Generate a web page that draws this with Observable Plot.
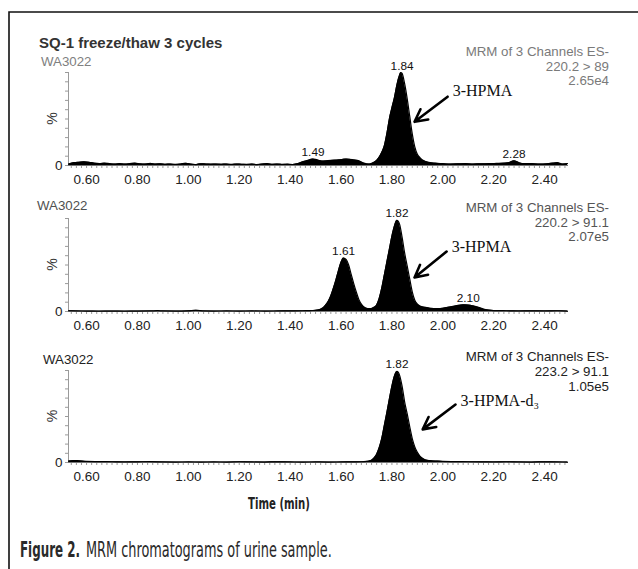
<!DOCTYPE html>
<html><head><meta charset="utf-8">
<script src="https://cdn.jsdelivr.net/npm/d3@7"></script>
<script src="https://cdn.jsdelivr.net/npm/@observablehq/plot@0.6"></script>
<style>
body{margin:0;background:#fff;}
#wrap{position:relative;width:638px;height:569px;overflow:hidden;background:#fff;}
#wrap svg{position:absolute;left:0;}
</style></head><body><div id="wrap"></div>
<script>
// ---------- data ----------
const sampleName = "WA3022";
const chartTitle = "SQ-1 freeze/thaw 3 cycles";
const xTickValues = [0.6, 0.8, 1.0, 1.2, 1.4, 1.6, 1.8, 2.0, 2.2, 2.4];
const yTickValues = [0, 10, 20, 30, 40, 50, 60, 70, 80, 90, 100];

// Panel 1: 220.2 > 89
const time1 = [0.53,0.55,0.57,0.59,0.61,0.63,0.65,0.67,0.69,0.71,0.73,0.75,0.77,0.79,0.81,0.83,0.85,0.87,0.89,0.91,0.93,0.95,0.97,0.99,1.01,1.03,1.05,1.07,1.09,1.11,1.13,1.15,1.17,1.19,1.21,1.23,1.25,1.27,1.29,1.31,1.33,1.35,1.37,1.39,1.41,1.43,1.45,1.47,1.48,1.49,1.50,1.52,1.53,1.56,1.59,1.62,1.65,1.67,1.69,1.71,1.73,1.74,1.75,1.76,1.77,1.78,1.79,1.80,1.81,1.82,1.83,1.835,1.84,1.85,1.86,1.87,1.88,1.89,1.90,1.91,1.92,1.93,1.95,1.97,2.00,2.03,2.06,2.09,2.12,2.15,2.18,2.21,2.24,2.26,2.28,2.30,2.32,2.35,2.38,2.41,2.43,2.45,2.47,2.49];
const intensity1 = [1.5,3,3.5,4,3.5,2.5,2,2.5,2,1.5,2,1.5,2,2.5,1.8,1.5,2.2,1.5,1.8,1.3,1.5,1.2,1.6,2.3,1.5,1,1.8,1.6,1.4,1.6,1.3,1.5,1.2,1.6,1.3,1.2,1.5,1,1.6,2,1.3,1.6,1.2,1.4,1.1,2,4,5.5,6.5,7,6.5,5,4.8,5.5,6,7,6,5,2.5,1.5,3.5,5.5,9,14,21,34,50,62,73,87,97,100,99,88,72,53,34,20,12,8.5,6,4.5,3,2.5,2,1.5,1.8,2,1.6,1.8,2,2.2,2.5,3,5,3,2,2,1.5,1.8,2.5,3,1.5,2];
const peakTimes1 = [1.49, 1.84, 2.28];
const peakLevels1 = [7, 100, 5];
const header1 = ["MRM of 3 Channels ES-", "220.2 > 89", "2.65e4"];
const compound1 = "3-HPMA";
const arrow1 = [2.019, 74, 1.889, 47];   // tail x,y -> head x,y (data units)
const label1 = [2.039, 80];

// Panel 2: 220.2 > 91.1
const time2 = [0.53,0.56,0.60,0.65,0.70,0.75,0.80,0.85,0.88,0.90,0.95,1.00,1.03,1.06,1.10,1.15,1.20,1.25,1.30,1.35,1.40,1.45,1.48,1.50,1.52,1.53,1.54,1.55,1.56,1.57,1.58,1.59,1.60,1.61,1.62,1.63,1.64,1.65,1.66,1.67,1.68,1.69,1.70,1.71,1.72,1.73,1.74,1.75,1.76,1.77,1.78,1.79,1.80,1.81,1.82,1.83,1.84,1.85,1.86,1.87,1.88,1.89,1.90,1.91,1.93,1.95,1.98,2.00,2.02,2.04,2.06,2.08,2.10,2.12,2.14,2.16,2.18,2.20,2.25,2.30,2.35,2.40,2.45,2.49];
const intensity2 = [0.8,0.6,0.5,0.4,0.5,0.4,0.5,0.6,0.9,0.6,0.5,0.7,1.3,0.6,0.5,0.6,0.5,0.6,0.5,0.6,0.7,0.8,1,1.3,2.5,4,7,11,17,25,34,44,53,57.5,56,50,40,30,21,13,8,5,3.5,3,3.2,4.5,7,14,25,39,53,67,81,92,98,94,80,63,49,35,21,12,8,6,4.5,3.5,3.2,3.5,4.5,5.5,6.5,7.2,7,6,4.5,2.5,1.5,1,0.8,0.6,0.7,0.6,0.8,0.5];
const peakTimes2 = [1.61, 1.82, 2.10];
const peakLevels2 = [57.5, 98, 7.2];
const header2 = ["MRM of 3 Channels ES-", "220.2 > 91.1", "2.07e5"];
const compound2 = "3-HPMA";
const arrow2 = [2.015, 64.5, 1.889, 36.6];
const label2 = [2.035, 69];

// Panel 3: 223.2 > 91.1
const time3 = [0.53,0.55,0.57,0.60,0.65,0.70,0.75,0.80,0.85,0.90,0.95,1.00,1.05,1.10,1.15,1.20,1.25,1.30,1.35,1.40,1.45,1.50,1.55,1.60,1.65,1.68,1.70,1.71,1.72,1.73,1.74,1.75,1.76,1.77,1.78,1.79,1.80,1.81,1.82,1.83,1.84,1.85,1.86,1.87,1.88,1.89,1.90,1.91,1.92,1.93,1.95,1.98,2.00,2.05,2.10,2.15,2.20,2.25,2.30,2.35,2.40,2.45,2.49];
const intensity3 = [1.5,2.2,1.8,1.2,1,0.8,0.6,0.7,0.9,0.6,0.5,0.6,0.5,0.6,0.5,0.8,0.6,0.5,0.7,0.6,0.5,0.6,0.5,0.6,0.7,0.8,1.2,1.6,2.5,5,9,16,26,40,54,69,83,94,99,95,83,66,53,39,26,17,11,7,4.5,3,2,1.5,1.2,1,0.8,0.7,0.6,0.8,0.6,0.5,0.7,0.6,0.5];
const peakTimes3 = [1.82];
const peakLevels3 = [99];
const header3 = ["MRM of 3 Channels ES-", "223.2 > 91.1", "1.05e5"];
const compound3 = "3-HPMA-d₃";
const arrow3 = [2.050, 63, 1.921, 36];
const label3 = [2.070, 67];

const xAxisTitle = "Time (min)";
const captionBold = "Figure 2.";
const captionText = "MRM chromatograms of urine sample.";

// ---------- layout ----------
const W = 638, H = 569;
const xDomain = [0.529, 2.494];
const minorTicks = d3.range(27, 125).map(i => +(i * 0.02).toFixed(2));
const wrap = document.getElementById("wrap");

const panels = [
  {time: time1, intensity: intensity1, peakTimes: peakTimes1, peakLevels: peakLevels1, header: header1, compound: compound1, arrow: arrow1, label: label1, top: 72, bottom: 165, nameY: 66, nameX: 41, nameColor: "#808080", headColor: "#7a7a7a", headY: [56, 71, 85]},
  {time: time2, intensity: intensity2, peakTimes: peakTimes2, peakLevels: peakLevels2, header: header2, compound: compound2, arrow: arrow2, label: label2, top: 218, bottom: 311, nameY: 210, nameX: 37, nameColor: "#505050", headColor: "#555", headY: [211.5, 226.5, 241]},
  {time: time3, intensity: intensity3, peakTimes: peakTimes3, peakLevels: peakLevels3, header: header3, compound: compound3, arrow: arrow3, label: label3, top: 370, bottom: 462, nameY: 364, nameX: 43, nameColor: "#222", headColor: "#222", headY: [360.5, 376, 390.5]}
];

const padT = 30, padB = 30;
for (const p of panels) {
  const data = p.time.map((t, i) => ({t, v: p.intensity[i]}));
  const peaks = p.peakTimes.map((t, i) => ({t, v: p.peakLevels[i], label: t.toFixed(2)}));
  const arrows = [{x1: p.arrow[0], y1: p.arrow[1], x2: p.arrow[2], y2: p.arrow[3]}];
  const notes = [{x: p.label[0], y: p.label[1], text: p.compound}];
  const chart = Plot.plot({
    width: W,
    height: p.bottom - p.top + padT + padB,
    marginLeft: 68, marginRight: 70, marginTop: padT, marginBottom: padB,
    x: {domain: xDomain},
    y: {domain: [0, 100]},
    style: {background: "transparent", overflow: "visible", fontFamily: "'Liberation Sans', Arial, sans-serif", fontSize: "13.5px", color: "#222"},
    marks: [
      Plot.axisX({ticks: minorTicks, tickSize: 3, tickFormat: () => "", stroke: "#9a9a9a", label: null}),
      Plot.axisX({ticks: xTickValues, tickSize: 0, tickPadding: 9, tickFormat: d => d.toFixed(2), fontSize: 13.5, label: null}),
      Plot.axisY({ticks: yTickValues, tickSize: 3, tickFormat: () => "", stroke: "#9a9a9a", label: null}),
      Plot.axisY({ticks: [0], tickSize: 0, tickPadding: 6, fontSize: 13.5, label: null}),
      Plot.ruleX([xDomain[0]], {stroke: "#9a9a9a"}),
      Plot.ruleY([0], {stroke: "#777"}),
      Plot.areaY(data, {x: "t", y: "v", fill: "black", curve: "monotone-x"}),
      Plot.lineY(data, {x: "t", y: "v", stroke: "black", strokeWidth: 1.2, curve: "monotone-x"}),
      Plot.text(peaks, {x: "t", y: "v", text: "label", lineAnchor: "bottom", dy: -3, fontSize: 11.8, fill: "#111"}),
      Plot.arrow(arrows, {x1: "x1", y1: "y1", x2: "x2", y2: "y2", stroke: "black", strokeWidth: 2.6, headLength: 12, headAngle: 55}),
      Plot.text(notes, {x: "x", y: "y", text: "text", textAnchor: "start", lineAnchor: "middle", fontFamily: "'Liberation Serif', 'DejaVu Serif', serif", fontSize: 16, fill: "#111"})
    ]
  });
  chart.style.top = (p.top - padT) + "px";
  wrap.appendChild(chart);
}

// ---------- overlay: frame, headers, captions ----------
const svg = d3.select(wrap).append("svg")
  .attr("width", W).attr("height", H).style("top", "0px")
  .style("font-family", "'Liberation Sans', Arial, sans-serif");

svg.append("path").attr("d", `M9,${H} L9,12 L${W},12`).attr("fill", "none").attr("stroke", "#111").attr("stroke-width", 1.6);

svg.append("text").attr("x", 39).attr("y", 48).attr("font-size", 15).attr("font-weight", "bold").attr("fill", "#333").text(chartTitle);

for (const p of panels) {
  svg.append("text").attr("x", p.nameX).attr("y", p.nameY).attr("font-size", 13.3).attr("fill", p.nameColor).text(sampleName);
  p.header.forEach((h, i) => {
    svg.append("text").attr("x", 609).attr("y", p.headY[i]).attr("text-anchor", "end").attr("font-size", 13.3).attr("fill", p.headColor).text(h);
  });
  const mid = (p.top + p.bottom) / 2;
  svg.append("text").attr("transform", `translate(51.5,${mid}) rotate(-90)`).attr("text-anchor", "middle").attr("dominant-baseline", "central").attr("font-size", 14).attr("fill", "#333").text("%");
}

// condensed text: scale horizontally so the real box matches the reference width
const narrow = "'Liberation Sans Narrow', 'DejaVu Sans Condensed', Arial, sans-serif";
function fitted(str, x, y, width, size, weight, color) {
  const t = svg.append("text").attr("x", 0).attr("y", 0).attr("font-size", size)
    .attr("font-weight", weight).attr("fill", color).attr("font-family", narrow).text(str);
  const w = t.node().getComputedTextLength() || width;
  t.attr("transform", `translate(${x},${y}) scale(${width / w},1)`);
  return t;
}
fitted(xAxisTitle, 248, 509, 62, 15, "bold", "#222");
fitted(captionBold, 20, 557, 60, 21, "bold", "#2a2a2a");
fitted(captionText, 86, 557, 246, 21, "normal", "#2a2a2a");
</script>
</body></html>
